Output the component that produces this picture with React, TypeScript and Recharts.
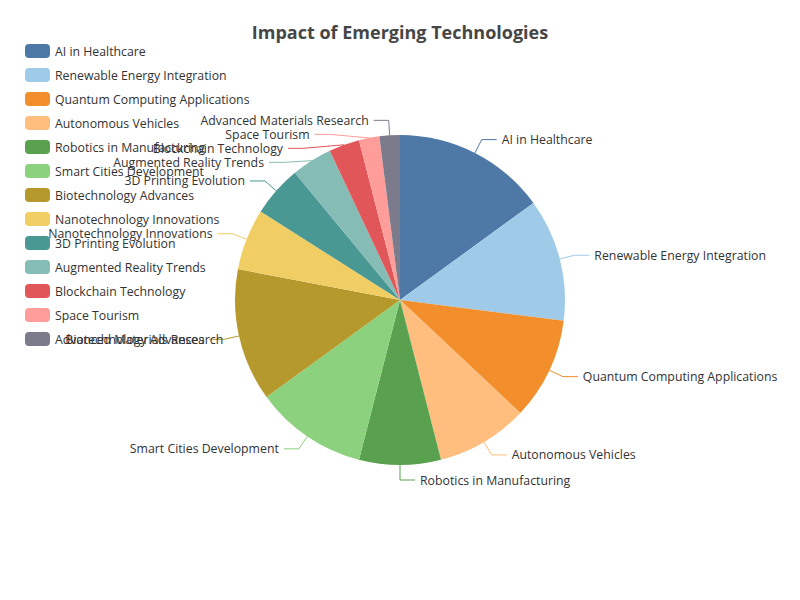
import React from "react";
import { PieChart, Pie, Cell } from "recharts";

const techNames = [
  "AI in Healthcare",
  "Renewable Energy Integration",
  "Quantum Computing Applications",
  "Autonomous Vehicles",
  "Robotics in Manufacturing",
  "Smart Cities Development",
  "Biotechnology Advances",
  "Nanotechnology Innovations",
  "3D Printing Evolution",
  "Augmented Reality Trends",
  "Blockchain Technology",
  "Space Tourism",
  "Advanced Materials Research",
];

const impactValues = [15, 12, 10, 9, 8, 11, 13, 6, 5, 4, 3, 2, 2];

const sliceColors = [
  "#4e79a7", "#a0cbe8", "#f28e2b", "#ffbe7d", "#59a14f", "#8cd17d", "#b6992d",
  "#f1ce63", "#499894", "#86bcb6", "#e15759", "#ff9d9a", "#7b7b8c",
];

const data = techNames.map((name, i) => ({ name, value: impactValues[i] }));

const CX = 400;
const CY = 300;
const R = 165;
const LEN1 = 15;
const LEN2 = 15;
const LABEL_H = 14;
const FONT = "'Open Sans', 'Noto Sans', sans-serif";
const FS = 12.3;

type LabelPos = {
  edge: [number, number];
  bendX: number;
  y: number;
  dir: number;
};

// outer label layout, shifting labels on one side apart when they overlap
function buildLabelLayout(): LabelPos[] {
  const total = impactValues.reduce((a, b) => a + b, 0);
  let acc = 0;
  const items = impactValues.map((v, i) => {
    const start = 90 - (acc / total) * 360;
    acc += v;
    const end = 90 - (acc / total) * 360;
    const mid = ((start + end) / 2) * (Math.PI / 180);
    const dx = Math.cos(mid);
    const dy = -Math.sin(mid);
    const dir = dx < -1e-6 ? -1 : 1;
    return {
      i,
      edge: [CX + R * dx, CY + R * dy] as [number, number],
      bendX: CX + (R + LEN1) * dx,
      y: CY + (R + LEN1) * dy,
      dir,
    };
  });

  [-1, 1].forEach((dir) => {
    const side = items.filter((it) => it.dir === dir).sort((a, b) => a.y - b.y);
    let last = -Infinity;
    let moved = false;
    side.forEach((it) => {
      if (it.y - last < LABEL_H) {
        it.y = last + LABEL_H;
        moved = true;
      }
      last = it.y;
    });
    if (!moved) return;
    const rA = R + LEN1;
    [side.filter((it) => it.y <= CY), side.filter((it) => it.y > CY)].forEach((semi) => {
      if (!semi.length) return;
      let maxDy = -1;
      let rB = rA;
      semi.forEach((it) => {
        const ddy = Math.abs(it.y - CY);
        if (ddy >= maxDy) {
          const ddx = it.bendX - CX;
          rB = Math.abs(ddx) < rA ? Math.sqrt((ddy * ddy) / (1 - (ddx * ddx) / (rA * rA))) : rA;
          maxDy = ddy;
        }
      });
      semi.forEach((it) => {
        const ddy = Math.abs(it.y - CY);
        const k = Math.max(0, 1 - (ddy * ddy) / (rB * rB));
        it.bendX = CX + dir * Math.sqrt(k) * rA;
      });
    });
  });

  const out: LabelPos[] = [];
  items.forEach((it) => {
    out[it.i] = { edge: it.edge, bendX: it.bendX, y: it.y, dir: it.dir };
  });
  return out;
}

const labelLayout = buildLabelLayout();

const renderLabel = (props: any) => {
  const { index } = props;
  const p = labelLayout[index];
  const endX = p.bendX + p.dir * LEN2;
  return (
    <g key={`lbl-${index}`}>
      <polyline
        points={`${p.edge[0]},${p.edge[1]} ${p.bendX},${p.y} ${endX},${p.y}`}
        fill="none"
        stroke={sliceColors[index]}
        strokeWidth={1}
      />
      <text
        x={endX + p.dir * 5}
        y={p.y}
        textAnchor={p.dir < 0 ? "end" : "start"}
        dominantBaseline="central"
        fontSize={FS}
        fontFamily={FONT}
        fill="#333"
      >
        {techNames[index]}
      </text>
    </g>
  );
};

export default function App() {
  return (
    <div style={{ position: "absolute", left: 0, top: 0, width: 800, height: 600, background: "#fff", fontFamily: FONT }}>
      <div
        style={{
          position: "absolute",
          top: 20,
          left: 0,
          width: 800,
          textAlign: "center",
          fontSize: 18,
          fontWeight: "bold",
          color: "#464646",
          lineHeight: "24px",
        }}
      >
        Impact of Emerging Technologies
      </div>
      <PieChart width={800} height={600} margin={{ top: 0, right: 0, bottom: 0, left: 0 }}>
        <Pie
          data={data}
          dataKey="value"
          nameKey="name"
          cx={CX}
          cy={CY}
          outerRadius={R}
          startAngle={90}
          endAngle={-270}
          stroke="none"
          labelLine={false}
          label={renderLabel}
          isAnimationActive={false}
        >
          {data.map((d, i) => (
            <Cell key={d.name} fill={sliceColors[i]} />
          ))}
        </Pie>
      </PieChart>
      {/* legend, top left */}
      <div style={{ position: "absolute", left: 25, top: 39 }}>
        {techNames.map((name, i) => (
          <div key={name} style={{ display: "flex", alignItems: "center", height: 24 }}>
            <div style={{ width: 25, height: 14, borderRadius: 4, background: sliceColors[i], marginRight: 5 }} />
            <span style={{ fontSize: FS, color: "#333", whiteSpace: "nowrap" }}>{name}</span>
          </div>
        ))}
      </div>
    </div>
  );
}
